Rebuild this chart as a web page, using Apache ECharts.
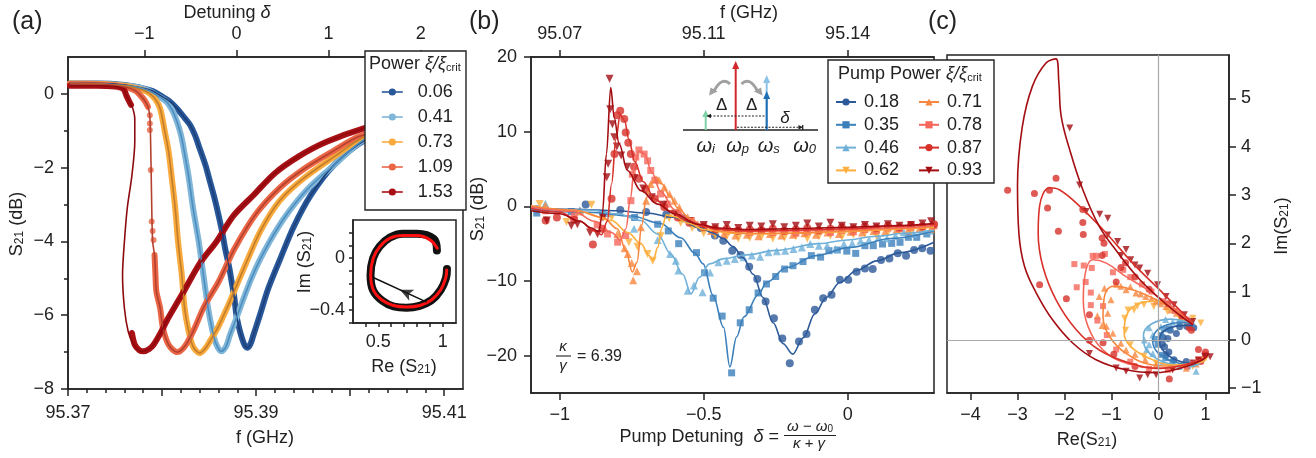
<!DOCTYPE html>
<html><head><meta charset="utf-8">
<script src="https://cdn.jsdelivr.net/npm/echarts@6/dist/echarts.min.js"></script>
<style>html,body{margin:0;padding:0;background:#fff}#c{width:1316px;height:458px}</style>
</head><body><div id="c"></div>
<script>
const FONT = 'Liberation Sans, Arial, Helvetica, sans-serif';

// ---------------- Panel (a): S21 (dB) vs f (GHz) ----------------
const a006 = [[95.3702,0.28],[95.3730,0.28],[95.3760,0.24],[95.3780,0.15],[95.3790,0.08],[95.3798,-0.04],[95.3808,-0.2],[95.3816,-0.4],[95.3824,-0.65],[95.3830,-0.85],[95.3835,-1.12],[95.3840,-1.48],[95.3846,-1.92],[95.3851,-2.38],[95.3856,-2.85],[95.3860,-3.28],[95.3864,-3.75],[95.3867,-4.18],[95.3871,-4.65],[95.3874,-5.09],[95.3877,-5.55],[95.3879,-5.99],[95.3882,-6.35],[95.3885,-6.62],[95.3888,-6.82],[95.3891,-6.88],[95.3894,-6.78],[95.3897,-6.55],[95.3904,-6.0],[95.3913,-5.27],[95.3926,-4.45],[95.3940,-3.6],[95.3958,-2.75],[95.3982,-1.95],[95.4016,-1.25],[95.4060,-0.82],[95.4100,-0.62],[95.4120,-0.55]];
const a041 = [[95.3702,0.28],[95.3740,0.27],[95.3770,0.2],[95.3785,0.1],[95.3795,-0.05],[95.3805,-0.22],[95.3811,-0.45],[95.3816,-0.76],[95.3820,-1.1],[95.3823,-1.48],[95.3828,-2.2],[95.3833,-3.1],[95.3839,-4.0],[95.3844,-4.91],[95.3849,-5.81],[95.3853,-6.35],[95.3857,-6.75],[95.3863,-6.98],[95.3868,-6.85],[95.3872,-6.55],[95.3878,-6.15],[95.3883,-5.8],[95.3895,-5.0],[95.3908,-4.3],[95.3929,-3.4],[95.3954,-2.6],[95.3982,-1.95],[95.4016,-1.22],[95.4060,-0.82],[95.4100,-0.62],[95.4120,-0.55]];
const a073 = [[95.3702,0.28],[95.3740,0.26],[95.3765,0.2],[95.3780,0.1],[95.3787,0.01],[95.3793,-0.15],[95.3798,-0.40],[95.3803,-1.03],[95.3807,-1.57],[95.3810,-2.2],[95.3814,-3.1],[95.3817,-4.0],[95.3821,-4.91],[95.3824,-5.81],[95.3828,-6.4],[95.3833,-6.85],[95.3840,-7.03],[95.3846,-6.9],[95.3851,-6.7],[95.3860,-6.3],[95.3870,-5.75],[95.3880,-5.15],[95.3890,-4.55],[95.3905,-3.7],[95.3925,-2.9],[95.3950,-2.3],[95.3982,-1.72],[95.4016,-1.15],[95.4060,-0.8],[95.4100,-0.6],[95.4120,-0.53]];
const a109Top = [[95.3702,0.27],[95.3740,0.25],[95.3762,0.18],[95.3772,0.08],[95.3777,-0.04],[95.3782,-0.2],[95.3785,-0.35]];
const a109Jump = [[95.3787,-0.58],[95.3787,-0.8],[95.3787,-0.98],[95.3788,-2.06],[95.3789,-3.46],[95.3790,-3.72],[95.3791,-3.96]];
const a109Fold = [[95.3787,-0.6],[95.3788,-1.5],[95.3789,-3.0],[95.3790,-4.0]];
const a109Bot = [[95.3792,-4.37],[95.3793,-4.91],[95.3794,-5.36],[95.3798,-5.81],[95.3801,-6.35],[95.3807,-6.8],[95.3816,-7.0],[95.3824,-6.85],[95.3833,-6.44],[95.3845,-5.75],[95.3860,-5.1],[95.3877,-4.2],[95.3900,-3.25],[95.3925,-2.55],[95.3950,-2.05],[95.3982,-1.55],[95.4010,-1.15],[95.4060,-0.8],[95.4100,-0.6],[95.4120,-0.54]];
const a153Top = [[95.3702,0.22],[95.3730,0.22],[95.3750,0.2],[95.3759,0.13],[95.3762,-0.04],[95.3765,-0.2],[95.3767,-0.3]];
const a153Fold = [[95.3769,-0.4],[95.3771,-0.67],[95.3771,-1.3],[95.3768,-2.2],[95.3763,-3.1],[95.3760,-4.0],[95.3758,-4.91],[95.3760,-5.81],[95.3764,-6.44],[95.3769,-6.76],[95.3775,-6.95]];
const a153Bot = [[95.3768,-6.48],[95.3771,-6.80],[95.3776,-6.95],[95.3780,-6.98],[95.3786,-6.92],[95.3791,-6.8],[95.3798,-6.5],[95.3805,-6.15],[95.3814,-5.75],[95.3823,-5.36],[95.3840,-4.6],[95.3858,-4.0],[95.3876,-3.3],[95.3897,-2.75],[95.3920,-2.15],[95.3945,-1.7],[95.3975,-1.3],[95.4016,-0.92],[95.4060,-0.65],[95.4100,-0.5],[95.4120,-0.45]];

// inset (a): Im vs Re
const insetFit = [[0.958,0.077],[0.901,0.142],[0.798,0.175],[0.694,0.175],[0.591,0.155],[0.513,0.090],[0.461,0.0],[0.441,-0.129],[0.461,-0.245],[0.526,-0.323],[0.617,-0.367],[0.720,-0.379],[0.824,-0.367],[0.915,-0.323],[0.985,-0.245],[1.023,-0.155],[1.031,-0.091]];
const insetData = [[0.955,0.06],[0.93,0.15],[0.80,0.19],[0.69,0.19],[0.59,0.16],[0.51,0.09],[0.46,0.0],[0.44,-0.13],[0.46,-0.25],[0.53,-0.33],[0.62,-0.375],[0.72,-0.385],[0.82,-0.37],[0.915,-0.325],[0.985,-0.245],[1.025,-0.155],[1.033,-0.085]];
const insetArrow = [[0.876,-0.341],[0.461,-0.150]];

// ---------------- Panel (b): S21 (dB) vs pump detuning ----------------
const b018 = [[-1.08,-0.4],[-0.91,0.25],[-0.79,-0.5],[-0.70,-0.75],[-0.63,-1.1],[-0.57,-1.6],[-0.51,-2.9],[-0.461,-3.9],[-0.432,-4.6],[-0.401,-5.94],[-0.372,-6.52],[-0.342,-8.08],[-0.314,-9.73],[-0.285,-12.73],[-0.256,-15.0],[-0.227,-17.7],[-0.201,-21.0],[-0.169,-18.1],[-0.143,-17.1],[-0.114,-13.85],[-0.085,-12.3],[-0.056,-11.84],[-0.027,-9.83],[0.002,-9.83],[0.031,-8.75],[0.060,-8.31],[0.087,-8.40],[0.116,-7.19],[0.145,-6.97],[0.174,-6.30],[0.203,-6.61],[0.231,-5.85],[0.259,-5.63],[0.288,-5.94]];
const b018Fit = [[-1.1,-0.3],[-0.95,-0.4],[-0.8,-0.6],[-0.7,-0.9],[-0.6,-1.5],[-0.51,-2.9],[-0.467,-3.6],[-0.432,-4.3],[-0.398,-5.4],[-0.363,-6.9],[-0.328,-9.1],[-0.294,-12.2],[-0.259,-15.6],[-0.224,-18.4],[-0.191,-19.8],[-0.154,-17.6],[-0.114,-14.4],[-0.074,-12.2],[-0.027,-10.2],[0.031,-8.6],[0.101,-7.3],[0.182,-6.2],[0.3,-4.8]];
const b035 = [[-1.08,-0.9],[-0.96,-0.7],[-0.85,-1.0],[-0.74,-1.5],[-0.66,-2.4],[-0.623,-3.3],[-0.587,-5.0],[-0.525,-6.2],[-0.497,-8.9],[-0.467,-12.3],[-0.436,-14.7],[-0.403,-22.3],[-0.373,-15.6],[-0.342,-13.85],[-0.311,-11.6],[-0.282,-10.4],[-0.250,-9.4],[-0.219,-8.4],[-0.190,-7.95],[-0.155,-7.4],[-0.126,-6.6],[-0.094,-6.8],[-0.065,-5.94],[-0.036,-5.85],[-0.003,-6.0],[0.028,-6.3],[0.060,-5.27],[0.089,-5.27],[0.121,-5.05],[0.153,-4.96],[0.182,-4.82],[0.211,-4.15],[0.240,-4.15],[0.275,-3.7]];
const b035Fit = [[-1.1,-0.5],[-0.9,-0.8],[-0.75,-1.3],[-0.65,-2.3],[-0.58,-4.2],[-0.53,-6.3],[-0.502,-7.7],[-0.468,-11.9],[-0.431,-16.2],[-0.409,-21.5],[-0.386,-17.5],[-0.36,-14.8],[-0.31,-11.8],[-0.282,-10.2],[-0.213,-8.2],[-0.109,-6.6],[0.007,-5.5],[0.15,-4.3],[0.3,-3.3]];
const b046 = [[-1.05,0.35],[-0.93,-0.5],[-0.83,-0.9],[-0.742,-3.0],[-0.66,-4.5],[-0.617,-6.4],[-0.597,-7.3],[-0.588,-8.6],[-0.556,-11.3],[-0.534,-10.6],[-0.504,-11.5],[-0.478,-8.85],[-0.449,-7.5],[-0.42,-7.3],[-0.392,-7.06],[-0.362,-6.83],[-0.333,-6.6],[-0.304,-6.75],[-0.275,-6.16],[-0.246,-6.03],[-0.217,-5.94],[-0.188,-5.72],[-0.159,-5.5],[-0.130,-5.05],[-0.100,-5.27],[-0.071,-5.27],[-0.042,-5.72],[-0.013,-5.05],[0.016,-4.96],[0.045,-4.6],[0.074,-4.5],[0.108,-4.15],[0.137,-4.3],[0.166,-3.93],[0.195,-3.48],[0.229,-3.7],[0.258,-3.26],[0.287,-3.26]];
const b046Fit = [[-1.1,-0.3],[-0.9,-0.5],[-0.8,-1.0],[-0.718,-1.9],[-0.66,-3.7],[-0.614,-6.4],[-0.573,-9.1],[-0.544,-11.7],[-0.515,-9.5],[-0.48,-7.7],[-0.43,-7.0],[-0.35,-6.5],[-0.25,-5.9],[-0.1,-5.0],[0,-4.5],[0.1,-4.0],[0.2,-3.6],[0.3,-3.2]];
const b062 = [[-1.07,0.3],[-0.977,-2.1],[-0.89,0.2],[-0.82,-1.5],[-0.76,-4.8],[-0.73,-5.4],[-0.695,-6.4],[-0.677,-7.3],[-0.65,-4.0],[-0.62,-1.6],[-0.58,-2.2],[-0.54,-2.9],[-0.50,-3.6],[-0.46,-3.9],[-0.42,-4.0],[-0.38,-4.3],[-0.34,-4.2],[-0.30,-4.1],[-0.26,-4.3],[-0.22,-4.2],[-0.18,-4.0],[-0.14,-4.3],[-0.10,-4.0],[-0.06,-3.9],[-0.02,-4.1],[0.02,-3.8],[0.06,-3.6],[0.10,-3.9],[0.14,-3.5],[0.18,-3.3],[0.22,-3.4],[0.26,-3.1],[0.30,-2.9]];
const b062Fit = [[-1.1,0.1],[-0.93,-0.7],[-0.82,-1.9],[-0.764,-3.5],[-0.718,-5.0],[-0.69,-6.6],[-0.675,-7.2],[-0.66,-5.5],[-0.645,-2.8],[-0.63,-1.2],[-0.6,-1.4],[-0.55,-2.3],[-0.5,-3.1],[-0.4,-3.6],[-0.3,-3.7],[-0.2,-3.6],[-0.1,-3.5],[0,-3.4],[0.1,-3.2],[0.2,-3.0],[0.3,-2.8]];
const b071 = [[-1.05,0.1],[-0.93,-0.7],[-0.85,-1.3],[-0.80,-3.7],[-0.775,-5.6],[-0.764,-6.4],[-0.75,-7.6],[-0.745,-9.9],[-0.732,-8.7],[-0.718,-2.8],[-0.70,0.76],[-0.684,3.0],[-0.666,3.67],[-0.655,3.5],[-0.637,2.55],[-0.619,1.66],[-0.602,0.76],[-0.585,-0.13],[-0.556,-1.47],[-0.521,-2.4],[-0.475,-3.3],[-0.43,-3.7],[-0.39,-3.9],[-0.35,-3.8],[-0.31,-4.0],[-0.27,-3.7],[-0.23,-3.9],[-0.19,-3.8],[-0.15,-3.6],[-0.11,-3.8],[-0.07,-3.5],[-0.03,-3.7],[0.01,-3.4],[0.05,-3.5],[0.09,-3.3],[0.13,-3.4],[0.17,-3.1],[0.21,-3.2],[0.25,-2.9],[0.29,-3.0]];
const b071Fit = [[-1.1,0],[-0.95,-0.5],[-0.85,-1.5],[-0.8,-3.0],[-0.77,-6.0],[-0.748,-8.8],[-0.732,-7.5],[-0.715,-2.5],[-0.7,1.0],[-0.685,3.0],[-0.665,3.8],[-0.645,3.0],[-0.62,1.5],[-0.59,-0.2],[-0.55,-1.6],[-0.5,-2.7],[-0.45,-3.3],[-0.35,-3.6],[-0.2,-3.6],[0,-3.3],[0.15,-3.0],[0.3,-2.7]];
const b078 = [[-1.05,-0.6],[-0.95,-1.2],[-0.87,-2.5],[-0.834,-3.7],[-0.799,-4.8],[-0.771,-3.9],[-0.753,0.76],[-0.748,4.3],[-0.736,6.6],[-0.725,7.55],[-0.707,7.0],[-0.695,6.1],[-0.684,4.8],[-0.67,3.5],[-0.65,1.66],[-0.627,0.3],[-0.589,-1.0],[-0.543,-1.9],[-0.50,-2.6],[-0.46,-3.0],[-0.42,-3.3],[-0.38,-3.2],[-0.34,-3.5],[-0.30,-3.3],[-0.26,-3.5],[-0.22,-3.3],[-0.18,-3.6],[-0.14,-3.4],[-0.10,-3.3],[-0.06,-3.5],[-0.02,-3.2],[0.02,-3.4],[0.06,-3.1],[0.10,-3.2],[0.14,-2.9],[0.18,-3.0],[0.22,-2.8],[0.26,-2.7],[0.30,-2.6]];
const b078Fit = [[-1.1,-0.1],[-0.95,-0.7],[-0.88,-2.0],[-0.82,-3.5],[-0.79,-4.5],[-0.77,-3.0],[-0.755,1.0],[-0.74,5.5],[-0.725,7.4],[-0.705,7.0],[-0.68,4.5],[-0.65,2.0],[-0.6,-0.5],[-0.55,-1.8],[-0.5,-2.6],[-0.45,-3.0],[-0.35,-3.3],[-0.2,-3.3],[0,-3.1],[0.15,-2.9],[0.3,-2.6]];
const b087 = [[-1.049,-1.9],[-1.01,-1.5],[-0.95,-1.8],[-0.885,-5.1],[-0.852,-3.0],[-0.82,1.0],[-0.81,7.0],[-0.801,12.2],[-0.79,12.8],[-0.776,11.7],[-0.771,9.9],[-0.762,8.5],[-0.753,7.0],[-0.742,5.3],[-0.725,3.7],[-0.701,2.3],[-0.67,1.0],[-0.637,-0.1],[-0.59,-1.5],[-0.55,-2.2],[-0.50,-2.8],[-0.46,-3.1],[-0.42,-3.0],[-0.38,-3.3],[-0.34,-3.1],[-0.30,-3.2],[-0.26,-3.0],[-0.22,-3.3],[-0.18,-3.1],[-0.14,-2.9],[-0.10,-3.2],[-0.06,-3.0],[-0.02,-2.8],[0.02,-3.0],[0.06,-2.7],[0.10,-2.9],[0.14,-2.6],[0.18,-2.8],[0.22,-2.5],[0.26,-2.7],[0.30,-2.4]];
const b087Fit = [[-1.1,-0.3],[-1.0,-0.8],[-0.93,-2.0],[-0.88,-3.3],[-0.855,-3.8],[-0.835,-2.0],[-0.82,3.0],[-0.805,9.0],[-0.79,12.3],[-0.775,11.5],[-0.76,9.0],[-0.74,6.0],[-0.71,3.3],[-0.67,1.0],[-0.62,-0.6],[-0.56,-1.9],[-0.5,-2.7],[-0.45,-3.1],[-0.35,-3.3],[-0.2,-3.2],[0,-3.0],[0.15,-2.7],[0.3,-2.4]];
const b093 = [[-1.045,-1.9],[-0.96,-2.6],[-0.939,-2.4],[-0.895,-3.5],[-0.869,-3.7],[-0.85,-1.5],[-0.837,3.9],[-0.832,5.7],[-0.827,17.1],[-0.825,13.0],[-0.817,11.0],[-0.811,9.25],[-0.802,8.0],[-0.787,6.8],[-0.765,5.3],[-0.74,3.8],[-0.71,2.4],[-0.68,1.2],[-0.64,0.2],[-0.60,-1.0],[-0.55,-2.0],[-0.50,-2.5],[-0.46,-2.8],[-0.42,-2.5],[-0.38,-2.9],[-0.34,-2.6],[-0.30,-2.7],[-0.26,-2.4],[-0.22,-2.8],[-0.18,-2.6],[-0.14,-2.3],[-0.10,-2.7],[-0.06,-2.2],[-0.02,-2.6],[0.02,-2.8],[0.06,-2.5],[0.10,-2.7],[0.14,-2.4],[0.18,-2.6],[0.22,-2.5],[0.26,-2.3],[0.29,-2.0]];
const b093Fit = [[-1.1,-0.6],[-1.0,-1.0],[-0.93,-2.0],[-0.89,-2.9],[-0.865,-3.4],[-0.852,-1.0],[-0.838,7.0],[-0.823,15.9],[-0.811,11.9],[-0.794,8.4],[-0.765,4.8],[-0.718,2.1],[-0.66,0.3],[-0.602,-1.0],[-0.521,-2.4],[-0.45,-2.9],[-0.35,-3.1],[-0.2,-3.0],[0,-2.8],[0.15,-2.6],[0.3,-2.3]];

// ---------------- Panel (c): Im(S21) vs Re(S21) ----------------
const c018Fit = [[1.05,-0.32],[0.98,-0.4],[0.65,-0.48],[0.3,-0.38],[0.08,-0.2],[0.02,0.0],[0.1,0.17],[0.35,0.28],[0.6,0.3],[0.73,0.3]];
const c035Fit = [[1.05,-0.32],[0.98,-0.4],[0.70,-0.52],[0.3,-0.45],[0.0,-0.28],[-0.12,-0.05],[-0.05,0.18],[0.2,0.32],[0.5,0.36],[0.73,0.33]];
const c046Fit = [[1.05,-0.32],[0.98,-0.4],[0.70,-0.55],[0.25,-0.5],[-0.1,-0.35],[-0.3,-0.12],[-0.32,0.1],[-0.15,0.33],[0.25,0.43],[0.6,0.38],[0.73,0.33]];
const c062Fit = [[1.05,-0.32],[0.94,-0.45],[0.30,-0.52],[-0.2,-0.38],[-0.59,-0.14],[-0.73,0.14],[-0.69,0.48],[-0.47,0.73],[-0.05,0.80],[0.38,0.62],[0.73,0.33]];
const c071Fit = [[1.05,-0.3],[0.98,-0.38],[0.48,-0.55],[-0.12,-0.52],[-0.69,-0.28],[-1.04,0.07],[-1.18,0.48],[-1.15,0.90],[-0.97,1.11],[-0.55,1.04],[-0.05,0.83],[0.45,0.55],[0.73,0.33]];
const c078Fit = [[1.05,-0.3],[0.98,-0.38],[0.55,-0.52],[-0.05,-0.59],[-0.69,-0.48],[-1.18,-0.21],[-1.50,0.28],[-1.60,0.83],[-1.57,1.31],[-1.40,1.66],[-1.11,1.59],[-0.69,1.31],[-0.12,0.97],[0.38,0.62],[0.73,0.33]];
const c087Fit = [[1.05,-0.3],[0.98,-0.38],[0.55,-0.52],[0.02,-0.59],[-0.62,-0.48],[-1.26,-0.21],[-1.75,0.21],[-2.18,0.83],[-2.46,1.52],[-2.56,2.21],[-2.53,2.77],[-2.32,3.15],[-2.11,3.11],[-1.68,2.77],[-1.11,2.21],[-0.55,1.59],[0.02,1.04],[0.52,0.55],[0.73,0.33]];
const c093Fit = [[1.07,-0.28],[0.94,-0.41],[0.45,-0.59],[-0.05,-0.68],[-0.69,-0.62],[-1.33,-0.41],[-1.82,-0.07],[-2.25,0.41],[-2.60,0.97],[-2.85,1.52],[-2.97,2.2],[-3.0,3.2],[-2.90,4.4],[-2.68,5.26],[-2.39,5.74],[-2.18,5.82],[-2.12,5.33],[-2.07,4.63],[-1.89,3.94],[-1.61,3.11],[-1.26,2.35],[-0.90,1.85],[-0.40,1.25],[0.16,0.74],[0.73,0.31]];
const c018 = [[0.75,0.25],[0.6,0.28],[0.38,0.13],[0.2,0.03],[0.13,-0.14],[0.16,-0.31],[0.33,-0.41],[0.59,-0.45],[0.1,0.05],[0.08,-0.08],[0.25,0.2],[0.45,0.27],[0.22,-0.25]];
const c035 = [[0.7,0.3],[0.45,0.33],[0.23,0.24],[0.05,0.10],[-0.02,-0.10],[0.05,-0.31],[0.30,-0.45],[0.62,-0.55],[-0.08,0.02],[0.12,0.22],[0.15,-0.38]];
const c046 = [[0.65,0.4],[0.30,0.37],[0.05,0.27],[-0.12,0.10],[-0.20,-0.10],[-0.12,-0.28],[0.09,-0.45],[0.44,-0.55],[0.80,-0.65],[-0.3,0.0],[-0.2,0.25],[0.15,0.42],[0.5,0.45],[-0.25,-0.2],[0.25,-0.5]];
const c062 = [[0.73,0.45],[0.44,0.48],[0.19,0.59],[-0.10,0.69],[-0.31,0.73],[-0.52,0.62],[-0.65,0.62],[-0.72,0.45],[-0.7,0.2],[-0.6,-0.1],[-0.31,-0.34],[-0.05,-0.48],[0.30,-0.62],[0.73,-0.55],[0.0,0.75],[-0.45,0.7],[0.55,0.4],[0.9,0.35]];
const c071 = [[-1.26,0.90],[-1.15,1.07],[-1.01,0.83],[-1.08,0.55],[-1.11,0.28],[-0.97,0.14],[-0.80,-0.07],[-0.69,-0.21],[-0.28,-0.41],[-0.05,-0.51],[0.30,-0.55],[0.59,-0.59],[-0.80,1.11],[-0.69,1.04],[-0.48,0.97],[-0.27,0.90],[-0.05,0.80],[0.16,0.69],[0.38,0.55],[0.59,0.41],[-0.9,1.15],[-0.6,1.1],[-0.38,0.95],[-0.15,0.85],[0.05,0.75],[0.27,0.62],[0.48,0.48],[-1.3,0.5],[-1.2,0.3],[-0.5,-0.3],[0.8,-0.5],[0.95,-0.35]];
const c078 = [[-1.79,1.57],[-1.59,1.54],[-1.42,1.49],[-1.40,1.74],[-1.33,1.74],[-1.14,1.78],[-1.74,1.09],[-1.44,0.98],[-1.44,0.72],[-1.18,0.70],[-0.97,1.40],[-0.75,1.45],[-0.6,1.3],[-0.35,1.15],[-0.15,1.0],[0.1,0.8],[0.35,0.6],[0.6,0.42],[-1.3,0.4],[-1.1,0.1],[-0.9,-0.2],[-0.6,-0.45],[-0.2,-0.6],[0.2,-0.62],[0.6,-0.55],[0.85,-0.4],[1.0,-0.3],[-1.55,1.2]];
const c087 = [[-3.21,3.10],[-2.64,3.03],[-2.36,2.73],[-2.18,3.35],[-2.32,3.1],[-2.13,2.25],[-1.61,2.70],[-1.61,2.43],[-1.60,2.18],[-1.20,2.11],[-1.16,2.00],[-1.20,1.75],[-2.53,1.14],[-1.96,0.85],[-1.47,0.52],[-1.47,-0.01],[-1.18,-0.06],[-0.95,-0.3],[-0.5,-0.55],[0.23,-0.81],[-0.8,1.5],[-0.5,1.3],[-0.2,1.05],[0.2,0.75],[0.5,0.5],[0.65,0.25],[0.7,0.2],[0.85,-0.2],[1.0,-0.25],[0.9,-0.45],[-0.9,1.2],[-0.7,1.6]];
const c093 = [[-1.89,4.39],[-1.68,3.21],[-1.54,2.66],[-1.08,2.52],[-1.08,2.17],[-0.87,2.04],[-0.69,1.87],[-0.59,1.66],[-0.40,1.49],[-0.23,1.38],[-0.02,1.14],[0.16,0.90],[0.33,0.73],[0.55,0.52],[0.73,0.38],[-1.47,-0.28],[-0.90,-0.58],[-0.69,-0.65],[-0.40,-0.79],[-0.23,-0.72],[-0.05,-0.72],[0.30,-0.62],[0.73,-0.48],[0.98,-0.34],[1.1,-0.35],[0.85,-0.42],[-0.8,1.75],[-0.5,1.55],[-1.25,2.6]];

// ---------------- ticks ----------------
const aXMajor = [95.37,95.38,95.39,95.40,95.41];
const aXLabels = [95.37,95.39,95.41];
const aXMinor = []; for (let i=1;i<21;i++){ if(i%5) aXMinor.push(+(95.37+0.002*i).toFixed(3)); }
const aYMajor = [-8,-6,-4,-2,0];
const aYMinor = [-7,-5,-3,-1];
const aTop = [-1,0,1,2];
const inXTicks = [0.4,0.5,0.6,0.7,0.8,0.9,1.0];
const inXLabels = [0.5,1];
const inYTicks = [-0.5,-0.4,-0.3,-0.2,-0.1,0,0.1,0.2];
const inYLabels = [-0.4,0];
const bXTicks = [-1,-0.5,0];
const bTopLabels = ['95.07','95.11','95.14'];
const bYTicks = [-20,-10,0,10,20];
const cXTicks = [-4,-3,-2,-1,0,1];
const cYTicks = [-1,0,1,2,3,4,5];

// ---------------- colours ----------------
const colA = {'0.06':'#29589a','0.41':'#80b6d8','0.73':'#f8aa3c','1.09':'#ea6646','1.53':'#a91015'};
const fitA = {'0.06':'#1c3f78','0.41':'#4d8dbf','0.73':'#c27c2c','1.09':'#b4402e','1.53':'#8c0a0e'};
const colB = {'0.18':'#2c5999','0.35':'#3b80bb','0.46':'#6fb0d9','0.62':'#fdae3b','0.71':'#f7873e','0.78':'#f6675b','0.87':'#d7312a','0.93':'#a30d12'};
const DOWN = 'path://M0,0L10,0L5,8.66Z';
const symB = {'0.18':'circle','0.35':'rect','0.46':'triangle','0.62':DOWN,'0.71':'triangle','0.78':'rect','0.87':'circle','0.93':DOWN};

const fmtMinus = v => String(v).replace('-', '\u2212');
function mkAxis(p) {
  return {
    type:'value', gridIndex:p.grid, position:p.pos, min:p.min, max:p.max,
    axisLine:{show:p.line!==false, onZero:false, lineStyle:{color:'#222', width:1.5}},
    axisTick:{show:true, inside:false, length:p.tickLen||6, customValues:p.ticks, lineStyle:{color:'#222', width:1.5}},
    axisLabel:{show:!!p.labels, customValues:p.labels||[], formatter:p.fmt||fmtMinus, fontSize:p.fs||18, color:'#222', fontFamily:FONT, margin:(p.margin==null?14:p.margin)},
    splitLine:{show:false}, axisPointer:{show:false}
  };
}

const xAxis = [
  mkAxis({grid:0,pos:'bottom',min:95.37,max:95.412,ticks:aXMajor,labels:aXLabels,fmt:v=>v.toFixed(2),tickLen:7,margin:15}),
  mkAxis({grid:0,pos:'bottom',min:95.37,max:95.412,ticks:aXMinor,tickLen:4,line:false}),
  mkAxis({grid:0,pos:'top',min:-1.828,max:2.459,ticks:aTop,labels:aTop,tickLen:7,margin:14}),
  mkAxis({grid:1,pos:'bottom',min:0.304,max:1.103,ticks:inXTicks,labels:inXLabels,tickLen:4,margin:10}),
  mkAxis({grid:2,pos:'bottom',min:-1.1,max:0.3,ticks:bXTicks,labels:bXTicks,tickLen:7,margin:13}),
  mkAxis({grid:2,pos:'top',min:-1.1,max:0.3,ticks:bXTicks,labels:bXTicks,tickLen:7,margin:14,fmt:v=>bTopLabels[bXTicks.indexOf(v)]}),
  mkAxis({grid:3,pos:'bottom',min:-4.5,max:1.5,ticks:cXTicks,labels:cXTicks,tickLen:7,margin:13})
];
const yAxis = [
  mkAxis({grid:0,pos:'left',min:-8,max:1,ticks:aYMajor,labels:aYMajor,tickLen:7,margin:14}),
  mkAxis({grid:0,pos:'left',min:-8,max:1,ticks:aYMinor,tickLen:4,line:false}),
  mkAxis({grid:1,pos:'left',min:-0.503,max:0.296,ticks:inYTicks,labels:inYLabels,tickLen:4,margin:8}),
  mkAxis({grid:2,pos:'left',min:-25,max:20,ticks:bYTicks,labels:bYTicks,tickLen:7,margin:14}),
  mkAxis({grid:3,pos:'right',min:-1.1,max:5.9,ticks:cYTicks,labels:cYTicks,tickLen:7,margin:12})
];

const series = [];
// panel (a)
function aFit(name, data) {
  series.push({type:'line', name, data, xAxisIndex:0, yAxisIndex:0, symbol:'circle', showSymbol:false, smooth:0.3,
    lineStyle:{color:fitA[name], width:1.6}, itemStyle:{color:colA[name]}, z:4, silent:true});
}
function aData(name, data) {
  series.push({type:'line', name, data, xAxisIndex:0, yAxisIndex:0, symbol:'none', smooth:0.3,
    lineStyle:{color:colA[name], width:6, cap:'round', join:'round'}, z:2, silent:true});
}
aFit('0.06', a006); aFit('0.41', a041); aFit('0.73', a073);
aFit('1.09', a109Top.concat(a109Fold, a109Bot));
aFit('1.53', a153Top.concat(a153Fold, a153Bot.slice(3)));
aData('0.06', a006); aData('0.41', a041); aData('0.73', a073);
aData('1.09', a109Top); aData('1.09', a109Bot);
series.push({type:'scatter', name:'1.09', data:a109Jump, xAxisIndex:0, yAxisIndex:0, symbol:'circle', symbolSize:6, itemStyle:{color:colA['1.09']}, z:2, silent:true});
aData('1.53', a153Top); aData('1.53', a153Bot);

// inset
series.push({type:'line', data:insetData, xAxisIndex:3, yAxisIndex:2, symbol:'none', smooth:0.4, lineStyle:{color:'#111', width:8, cap:'round'}, z:3, silent:true});
series.push({type:'line', data:insetFit, xAxisIndex:3, yAxisIndex:2, symbol:'none', smooth:0.4, lineStyle:{color:'#ff1010', width:3, cap:'round'}, z:4, silent:true});
series.push({type:'line', data:insetArrow, xAxisIndex:3, yAxisIndex:2, symbol:'none', lineStyle:{color:'#111', width:1.4}, z:5, silent:true});
const arrMid = [(insetArrow[0][0]+insetArrow[1][0])/2, (insetArrow[0][1]+insetArrow[1][1])/2];
const arrAng = Math.atan2(insetArrow[1][1]-insetArrow[0][1], insetArrow[1][0]-insetArrow[0][0])*180/Math.PI;
series.push({type:'scatter', data:[arrMid], xAxisIndex:3, yAxisIndex:2, symbol:'arrow', symbolSize:[9,13], symbolRotate:arrAng-90, itemStyle:{color:'#111'}, z:6, silent:true});

// panel (b)
const bSets = [['0.18',b018,b018Fit],['0.35',b035,b035Fit],['0.46',b046,b046Fit],['0.62',b062,b062Fit],['0.71',b071,b071Fit],['0.78',b078,b078Fit],['0.87',b087,b087Fit],['0.93',b093,b093Fit]];
const bSize = {'circle':8,'rect':7,'triangle':8};
bSets.forEach(([n, d, f]) => {
  series.push({type:'line', name:n, data:f, xAxisIndex:4, yAxisIndex:3, symbol:symB[n], showSymbol:false, smooth:0.35, smoothMonotone:'x',
    lineStyle:{color:colB[n], width:1.6}, itemStyle:{color:colB[n]}, z:4, silent:true});
});
bSets.forEach(([n, d, f]) => {
  series.push({type:'scatter', name:n, data:d, xAxisIndex:4, yAxisIndex:3, symbol:symB[n], symbolSize:bSize[symB[n]]||8,
    itemStyle:{color:colB[n]}, z:3, silent:true});
});

// panel (c)
series.push({type:'line', data:[], xAxisIndex:6, yAxisIndex:4, z:1, silent:true,
  markLine:{silent:true, symbol:'none', label:{show:false}, lineStyle:{color:'#a8a8a8', width:1.2, type:'solid'}, data:[{xAxis:0},{yAxis:0}]}});
const cSets = [['0.18',c018,c018Fit],['0.35',c035,c035Fit],['0.46',c046,c046Fit],['0.62',c062,c062Fit],['0.71',c071,c071Fit],['0.78',c078,c078Fit],['0.87',c087,c087Fit],['0.93',c093,c093Fit]];
cSets.forEach(([n, d, f]) => {
  series.push({type:'scatter', name:n, data:d, xAxisIndex:6, yAxisIndex:4, symbol:symB[n], symbolSize:(bSize[symB[n]]||8)-1,
    itemStyle:{color:colB[n]}, z:3, silent:true});
  series.push({type:'line', name:n, data:f, xAxisIndex:6, yAxisIndex:4, symbol:'none', smooth:0.4,
    lineStyle:{color:colB[n], width:1.6}, z:4, silent:true});
});

// ---------------- graphics ----------------
const G = [];
const T = (x, y, text, o={}) => ({type:'text', x, y, rotation:o.rot||0, z:o.z||100, silent:true,
  style:{text, fontSize:o.fs||18, fontFamily:FONT, fill:'#222', fontStyle:o.it?'italic':'normal',
    textAlign:o.al||'center', align:o.al||'center', textVerticalAlign:'middle', verticalAlign:'middle', rich:o.rich}});
const L = (x1,y1,x2,y2,o={}) => ({type:'line', z:o.z||100, silent:true, shape:{x1,y1,x2,y2}, style:{stroke:o.c||'#222', lineWidth:o.w||1.3, lineDash:o.dash||null}});
const P = (pts, c, z) => ({type:'polygon', z:z||100, silent:true, shape:{points:pts}, style:{fill:c}});
const rich = {
  n:{fontSize:18, fontFamily:FONT, color:'#222'},
  i:{fontSize:18, fontFamily:FONT, color:'#222', fontStyle:'italic'},
  s:{fontSize:12, fontFamily:FONT, color:'#222', verticalAlign:'bottom', lineHeight:9},
  c:{fontSize:11, fontFamily:FONT, color:'#222', verticalAlign:'bottom', lineHeight:8},
  si:{fontSize:13, fontFamily:FONT, color:'#222', fontStyle:'italic', verticalAlign:'bottom', lineHeight:9},
  w:{fontSize:20, fontFamily:FONT, color:'#222', fontStyle:'italic'}
};
// panel letters
G.push(T(12, 22, '(a)', {fs:25, al:'left'}));
G.push(T(469, 22, '(b)', {fs:25, al:'left'}));
G.push(T(928, 22, '(c)', {fs:25, al:'left'}));
// panel (a) titles
G.push(T(227, 13, '{n|Detuning }{i|\u03b4}', {rich}));
G.push(T(265, 438, 'f (GHz)', {}));
G.push(T(17, 224, '{n|S}{s|21}{n| (dB)}', {rich, rot:Math.PI/2}));
G.push(T(404, 367, '{n|Re (S}{s|21}{n|)}', {rich}));
G.push(T(305, 262, '{n|Im (S}{s|21}{n|)}', {rich, rot:Math.PI/2}));
// legend (a) box & title
G.push({type:'rect', z:50, silent:true, shape:{x:365, y:51, width:101, height:159}, style:{fill:'#fff', stroke:'#222', lineWidth:1.4}});
G.push(T(369, 64, '{n|Power }{i|\u03be/\u03be}{c|crit}', {rich, al:'left', z:60}));
// panel (b) titles
G.push(T(749, 13, 'f (GHz)', {}));
G.push(T(478, 209, '{n|S}{s|21}{n| (dB)}', {rich, rot:Math.PI/2}));
G.push(T(779, 437, '{n|Pump Detuning  }{i|\u03b4}{n| =}', {rich, al:'right'}));
G.push(T(810, 427, '{a|\u03c9 \u2212 \u03c9}{b|0}', {rich:{a:{fontSize:15, fontFamily:FONT, fontStyle:'italic', color:'#222'}, b:{fontSize:10, fontFamily:FONT, color:'#222', verticalAlign:'bottom', lineHeight:7}}}));
G.push(L(784, 435.5, 836, 435.5, {w:1.2}));
G.push(T(809, 444, '\u03ba + \u03b3', {fs:15, it:true}));
// kappa/gamma
G.push(T(563, 347, '\u03ba', {fs:15, it:true}));
G.push(L(556, 356, 571, 356, {w:1.1}));
G.push(T(563, 366, '\u03b3', {fs:15, it:true}));
G.push(T(577, 357, '= 6.39', {fs:16, al:'left'}));
// schematic
G.push(L(683, 130, 818, 130, {w:1.3}));
G.push(L(802.7, 125, 802.7, 130, {w:1.3}));
G.push(L(705.7, 130, 705.7, 115, {c:'#7fd1a6', w:2}));
G.push(P([[702.2,117],[709.2,117],[705.7,110]], '#7fd1a6'));
G.push(L(735.7, 130, 735.7, 67, {c:'#d3262b', w:2}));
G.push(P([[732.2,69],[739.2,69],[735.7,61]], '#d3262b'));
G.push(L(766.7, 130, 766.7, 81, {c:'#8cc2e8', w:2}));
G.push(P([[763.2,83],[770.2,83],[766.7,75]], '#8cc2e8'));
G.push(L(766.7, 130, 766.7, 97, {c:'#1f6fb5', w:2}));
G.push(P([[763.2,99],[770.2,99],[766.7,91]], '#1f6fb5'));
G.push(L(710, 116, 766, 116, {w:1.1, dash:[2,1.5]}));
G.push(P([[706.5,116],[711,113.8],[711,118.2]], '#222'));
G.push(L(737, 127.3, 799, 127.3, {w:1.1, dash:[2,1.5]}));
G.push(P([[803,127.3],[798.5,125.1],[798.5,129.5]], '#222'));
G.push(T(721.7, 105, '\u0394', {fs:17}));
G.push(T(751.7, 105, '\u0394', {fs:17}));
G.push(T(785, 118, '\u03b4', {fs:17, it:true}));
G.push(T(705.7, 146, '{w|\u03c9}{si|i}', {rich}));
G.push(T(737.7, 146, '{w|\u03c9}{si|p}', {rich}));
G.push(T(768.7, 146, '{w|\u03c9}{si|s}', {rich}));
G.push(T(804.7, 146, '{w|\u03c9}{si|0}', {rich}));
G.push({type:'bezierCurve', z:100, silent:true, shape:{x1:730, y1:84, x2:714, y2:91, cpx1:722, cpy1:76}, style:{stroke:'#a0a0a0', lineWidth:3, fill:null}});
G.push(P([[709,95.5],[710.5,87.5],[717.5,91.5]], '#a0a0a0'));
G.push({type:'bezierCurve', z:100, silent:true, shape:{x1:741.5, y1:84, x2:757.5, y2:91, cpx1:749.5, cpy1:76}, style:{stroke:'#a0a0a0', lineWidth:3, fill:null}});
G.push(P([[762.5,95.5],[761,87.5],[754,91.5]], '#a0a0a0'));
// legend (b) box & title
G.push({type:'rect', z:50, silent:true, shape:{x:828, y:60, width:166, height:123}, style:{fill:'#fff', stroke:'#222', lineWidth:1.4}});
G.push(T(838, 74, '{n|Pump Power }{i|\u03be/\u03be}{c|crit}', {rich, al:'left', z:60}));
// panel (c) titles
G.push(T(1087, 440, '{n|Re(S}{s|21}{n|)}', {rich}));
G.push(T(1282, 226, '{n|Im(S}{s|21}{n|)}', {rich, rot:Math.PI/2}));

const legText = {fontSize:18, fontFamily:FONT, color:'#222'};
const legendA = {show:true, orient:'vertical', left:381, top:83, itemWidth:21, itemHeight:9, itemGap:7, selectedMode:false, z:60, padding:0,
  textStyle:Object.assign({padding:[0,0,0,10]}, legText),
  data:Object.keys(colA).map(n => ({name:n, itemStyle:{color:colA[n]}, lineStyle:{color:colA[n], width:1.6}}))};
const legendB1 = {show:true, orient:'vertical', left:835, top:93, itemWidth:20, itemHeight:9, itemGap:4.8, selectedMode:false, z:60, padding:0,
  textStyle:Object.assign({padding:[0,0,0,3]}, legText), data:['0.18','0.35','0.46','0.62']};
const legendB2 = {show:true, orient:'vertical', left:918, top:93, itemWidth:20, itemHeight:9, itemGap:4.8, selectedMode:false, z:60, padding:0,
  textStyle:Object.assign({padding:[0,0,0,3]}, legText), data:['0.71','0.78','0.87','0.93']};

const chart = echarts.init(document.getElementById('c'), null, {renderer:'canvas'});
chart.setOption({
  animation:false,
  backgroundColor:'#fff',
  textStyle:{fontFamily:FONT},
  grid:[
    {left:68, top:57, width:395, height:332, show:true, borderColor:'#222', borderWidth:1.5, backgroundColor:'transparent'},
    {left:353, top:220, width:103, height:103, show:true, borderColor:'#222', borderWidth:1.5, backgroundColor:'#fff'},
    {left:531, top:57, width:403, height:336, show:true, borderColor:'#222', borderWidth:1.5, backgroundColor:'transparent'},
    {left:947, top:55, width:282, height:338, show:true, borderColor:'#222', borderWidth:1.5, backgroundColor:'transparent'}
  ],
  xAxis, yAxis,
  legend:[legendA, legendB1, legendB2],
  graphic:{elements:G},
  series
});
</script></body></html>
